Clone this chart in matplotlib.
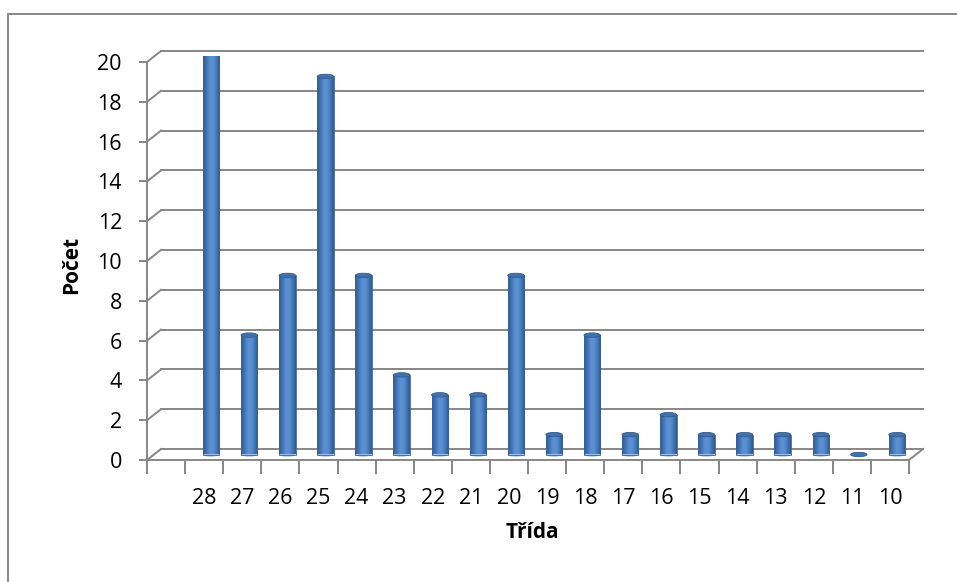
import numpy as np
import matplotlib
matplotlib.use("Agg")
import matplotlib.pyplot as plt
from matplotlib.patches import Ellipse, Rectangle
from matplotlib.colors import LinearSegmentedColormap

# data (first slot is an empty category)
classes = ["", "28", "27", "26", "25", "24", "23", "22", "21", "20",
           "19", "18", "17", "16", "15", "14", "13", "12", "11", "10"]
counts = [np.nan, 20, 6, 9, 19, 9, 4, 3, 3, 9,
          1, 6, 1, 2, 1, 1, 1, 1, 0, 1]
y_ticks = list(range(0, 21, 2))

plt.rcParams['font.family'] = ['Open Sans', 'DejaVu Sans']

W, H = 957, 582
fig = plt.figure(figsize=(W / 100, H / 100), dpi=100)
ax = fig.add_axes([147 / W, 1 - 460 / H, 762 / W, 398 / H])

n = len(classes)
grid_col = '#878787'
DX, DY = 14 * n / 762, 11 * 20 / 398   # depth of the 3d box in data units

# back wall gridlines + left wall diagonals
for v in y_ticks:
    ax.plot([DX, n + DX], [v + DY, v + DY], color=grid_col, lw=1.4,
            clip_on=False, zorder=1)
    ax.plot([0, DX], [v, v + DY], color=grid_col, lw=1.4,
            clip_on=False, zorder=1)
# floor
ax.plot([0, n], [0, 0], color=grid_col, lw=1.4, clip_on=False, zorder=2)
ax.plot([n, n + DX], [0, DY], color=grid_col, lw=1.4, clip_on=False, zorder=2)
ax.plot([0, 0], [0, 20], color=grid_col, lw=1.4, clip_on=False, zorder=2)

# cylinders
cmap = LinearSegmentedColormap.from_list(
    'cyl', ['#2E5A8F', '#4273B0', '#5A8FD2', '#5B91D4', '#4578B5', '#30598C'])
grad = np.linspace(0, 1, 64).reshape(1, -1)
bw = 0.43
eh = 0.22
xs = np.arange(n) + 0.5 + DX / 2
for x, c in zip(xs, counts):
    if np.isnan(c):
        continue
    y0 = DY / 2
    ax.add_patch(Ellipse((x, y0), bw, eh, facecolor='#9CBCE6',
                         edgecolor='none', zorder=3))
    if c > 0:
        bar = ax.bar(x, c, width=bw, bottom=y0, color='none',
                     edgecolor='#3A6398', lw=0.6, zorder=5)[0]
        im = ax.imshow(grad, cmap=cmap, aspect='auto', zorder=4,
                       extent=[x - bw / 2, x + bw / 2, y0, y0 + c])
        im.set_clip_path(bar)
    ax.add_patch(Ellipse((x, y0 + c), bw, eh, facecolor='#4371AA',
                         edgecolor='#335C90', lw=0.6, zorder=6))

ax.set_xlim(0, n)
ax.set_ylim(0, 20)
for s in ax.spines.values():
    s.set_visible(False)

ax.set_yticks(y_ticks)
ax.tick_params(axis='y', length=6, width=1.4, color=grid_col, pad=12,
               labelsize=15.5)
ax.set_xticks(np.arange(n) + 0.5)
ax.set_xticklabels(classes)
ax.set_xticks(np.arange(n + 1), minor=True)
ax.tick_params(axis='x', which='major', length=0, pad=20, labelsize=15.5)
ax.tick_params(axis='x', which='minor', length=10, width=1.4, color=grid_col)

ax.set_xlabel('Třída', fontsize=15, fontweight='bold')
ax.xaxis.set_label_coords((532 - 147) / 762, (460 - 522) / 398)
ax.set_ylabel('Počet', fontsize=15, fontweight='bold')
ax.yaxis.set_label_coords((82 - 147) / 762, (460 - 265) / 398)

# chart area border
fig.patches.append(Rectangle((8 / W, -0.1), 1.1, 1 - 14 / H + 0.1,
                             transform=fig.transFigure, fill=False,
                             edgecolor='#878787', lw=1.4))

fig.savefig('out.png', dpi=100)
